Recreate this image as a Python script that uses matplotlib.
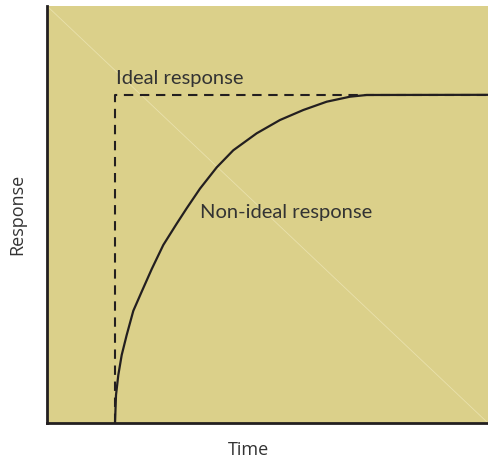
import matplotlib
matplotlib.use("Agg")
import matplotlib.pyplot as plt

# Ideal (step) response
ideal_t = [15.4, 15.4, 100.0]
ideal_r = [0.0, 78.7, 78.7]

# Non-ideal response
real_t = [15.42, 15.65, 16.17, 16.94, 18.07, 19.57, 21.47, 23.74, 26.37, 29.41,
          31.68, 34.69, 38.48, 42.24, 47.55, 52.83, 58.12, 63.42, 68.71, 72.49, 100.0]
real_r = [0.0, 6.71, 11.51, 16.31, 21.10, 26.9, 31.49, 36.9, 42.69, 47.8,
          51.5, 56.2, 61.3, 65.4, 69.47, 72.66, 75.06, 77.05, 78.25, 78.66, 78.7]

bg = "#DBD08A"
ink = "#231F20"

fig = plt.figure(figsize=(4.88, 4.61), dpi=100)
ax = fig.add_axes([47/488, 38/461, 441/488, 417/461])
ax.set_facecolor(bg)
ax.set_xlim(0, 100)
ax.set_ylim(0, 100)

# faint diagonal
ax.plot([0, 100], [100, 0], color="#E9E1AC", lw=0.6, zorder=1)

ax.plot(ideal_t, ideal_r, color=ink, lw=1.5, ls=(0, (4.5, 3.2)), zorder=2)
ax.plot(real_t, real_r, color=ink, lw=1.6, zorder=3, solid_capstyle="butt",
        solid_joinstyle="round")

for s in ["top", "right"]:
    ax.spines[s].set_visible(False)
for s in ["left", "bottom"]:
    ax.spines[s].set_color(ink)
    ax.spines[s].set_linewidth(2.0)
ax.set_xticks([])
ax.set_yticks([])

tf = dict(family=["Lato", "DejaVu Sans"], color="#333333", fontsize=14.5)
ax.text(15.6, 82.6, "Ideal response", ha="left", va="center", **tf)
ax.text(34.6, 50.4, "Non-ideal response", ha="left", va="center", **tf)

lf = dict(family=["Open Sans", "DejaVu Sans"], color="#333333", fontsize=13)
fig.text(248/488, 1 - 450/461, "Time", ha="center", va="center", **lf)
fig.text(17/488, 1 - 214/461, "Response", ha="center", va="center", rotation=90, **lf)

fig.savefig("out.png", dpi=100)
